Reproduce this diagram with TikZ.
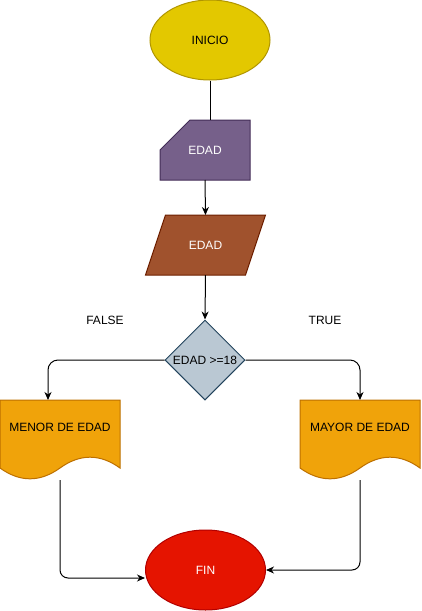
\documentclass[tikz,border=0pt]{standalone}
\usepackage{fontspec}
\setmainfont{Liberation Sans}
\usetikzlibrary{arrows.meta,shapes.geometric,backgrounds}
\definecolor{inicioF}{HTML}{E3C800}
\definecolor{inicioS}{HTML}{B09500}
\definecolor{cardF}{HTML}{76608A}
\definecolor{cardS}{HTML}{432D57}
\definecolor{paraF}{HTML}{A0522D}
\definecolor{paraS}{HTML}{6D1F00}
\definecolor{decF}{HTML}{BAC8D3}
\definecolor{decS}{HTML}{23445D}
\definecolor{docF}{HTML}{F0A30A}
\definecolor{docS}{HTML}{BD7000}
\definecolor{finF}{HTML}{E51400}
\definecolor{finS}{HTML}{B20000}
\begin{document}
\begin{tikzpicture}[x=1pt,y=-1pt,
  every node/.style={font=\fontsize{12}{14}\selectfont},
  oval/.style={ellipse, draw, line width=1pt, minimum width=120pt, minimum height=80pt, inner sep=0pt},
  box/.style={rectangle, inner sep=0pt, outer sep=0pt},
  shp/.style={line width=1pt},
  conn/.style={line width=1pt, -{Stealth[length=8pt,width=7pt,inset=2.5pt]}},
  plain/.style={line width=1pt}]
\useasboundingbox (0,0) rectangle (421,611);

\node[oval, draw=inicioS, fill=inicioF] (inicio) at (210,40) {INICIO};
\node[box, minimum width=90pt, minimum height=60pt, text=white] (card) at (205,150) {EDAD};
\node[box, minimum width=120pt, minimum height=60pt, text=white] (para) at (205.5,245) {EDAD};
\node[diamond, draw=decS, fill=decF, line width=1pt, minimum width=80pt, minimum height=80pt, inner sep=0pt, aspect=1] (dec) at (205,360) {EDAD >=18};
\node[box, minimum width=120pt, minimum height=80pt, label={[yshift=13pt]center:MENOR DE EDAD}] (menor) at (60,440) {};
\node[box, minimum width=120pt, minimum height=80pt, label={[yshift=13pt]center:MAYOR DE EDAD}] (mayor) at (360,440) {};
\node[oval, draw=finS, fill=finF, text=white] (fin) at (205.5,570) {FIN};
\node (false) at (105,320) {FALSE};
\node (true) at (325,320) {TRUE};

\begin{scope}[on background layer]
  \filldraw[shp, draw=cardS, fill=cardF] ([xshift=30pt]card.north west) -- (card.north east) -- (card.south east) -- (card.south west) -- ([yshift=-30pt]card.north west) -- cycle;
  \filldraw[shp, draw=paraS, fill=paraF] ([xshift=20pt]para.north west) -- (para.north east) -- ([xshift=-20pt]para.south east) -- (para.south west) -- cycle;
  \begin{scope}[shift={(menor.north west)}]
    \filldraw[shp, draw=docS, fill=docF] (0,0) -- (120,0) -- (120,68) .. controls (100,53.6) and (80,53.6) .. (60,68) .. controls (40,82.4) and (20,82.4) .. (0,68) -- cycle;
  \end{scope}
  \begin{scope}[shift={(mayor.north west)}]
    \filldraw[shp, draw=docS, fill=docF] (0,0) -- (120,0) -- (120,68) .. controls (100,53.6) and (80,53.6) .. (60,68) .. controls (40,82.4) and (20,82.4) .. (0,68) -- cycle;
  \end{scope}
\end{scope}

\draw[plain] (inicio.south) -- (inicio.south |- card.north);
\draw[conn] (card.south) -- (para.north);
\draw[conn] (para.south) -- (dec.north);
\draw[conn, rounded corners=10pt] (dec.west) -| ([xshift=-12pt]menor.north);
\draw[conn, rounded corners=10pt] (dec.east) -| (mayor.north);
\draw[conn, rounded corners=8pt] (menor.south) |- ([yshift=-8pt]fin.west);
\draw[conn, rounded corners=8pt] (mayor.south) |- (fin.east);
\end{tikzpicture}
\end{document}
